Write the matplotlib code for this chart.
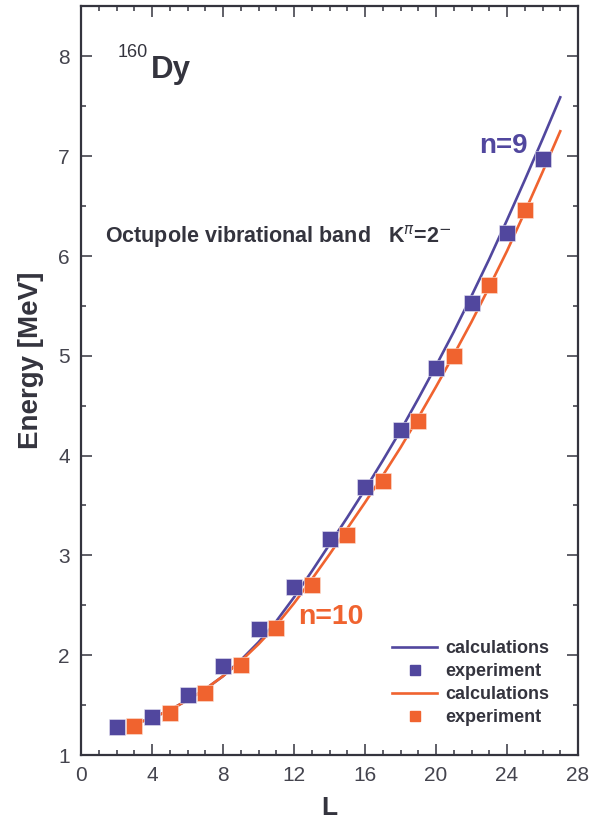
import matplotlib
matplotlib.use("Agg")
import matplotlib.pyplot as plt
from matplotlib.ticker import MultipleLocator
from matplotlib.lines import Line2D

plt.rcParams['font.family'] = ['Liberation Sans', 'DejaVu Sans']

# ---- data ----
L_exp_n9 = [2, 4, 6, 8, 10, 12, 14, 16, 18, 20, 22, 24, 26]
E_exp_n9 = [1.28, 1.38, 1.60, 1.89, 2.26, 2.68, 3.16, 3.69, 4.26, 4.88, 5.53, 6.23, 6.97]

L_exp_n10 = [3, 5, 7, 9, 11, 13, 15, 17, 19, 21, 23, 25]
E_exp_n10 = [1.29, 1.42, 1.62, 1.90, 2.27, 2.70, 3.20, 3.75, 4.35, 5.00, 5.71, 6.46]

L_calc = [3, 4, 5, 6, 7, 8, 9, 10, 11, 12, 13, 14, 15, 16, 17, 18, 19, 20,
          21, 22, 23, 24, 25, 26, 27]
E_calc_n9 = [1.31, 1.37, 1.45, 1.55, 1.66, 1.79, 1.95, 2.13, 2.34, 2.58, 2.84,
             3.11, 3.38, 3.66, 3.95, 4.25, 4.57, 4.90, 5.24, 5.60, 5.97, 6.36,
             6.76, 7.17, 7.59]
E_calc_n10 = [1.31, 1.37, 1.45, 1.55, 1.66, 1.79, 1.94, 2.11, 2.30, 2.52, 2.76,
              3.01, 3.27, 3.53, 3.80, 4.08, 4.38, 4.69, 5.01, 5.34, 5.69, 6.05,
              6.44, 6.84, 7.25]

x_ticks = [0, 4, 8, 12, 16, 20, 24, 28]
y_ticks = [1, 2, 3, 4, 5, 6, 7, 8]

BLUE = '#51479E'
ORANGE = '#F0632F'
DARK = '#34343e'

fig = plt.figure(figsize=(6.03, 8.21), dpi=100)
ax = fig.add_axes([81 / 603, 1 - 755 / 821, (578 - 81) / 603, (755 - 6.5) / 821])

ax.plot(L_calc, E_calc_n9, color=BLUE, lw=1.9, zorder=2)
ax.plot(L_calc, E_calc_n10, color=ORANGE, lw=1.9, zorder=2)
ax.plot(L_exp_n9, E_exp_n9, 's', color=BLUE, ms=11.3, mec='#e8e6f2', mew=0.4, zorder=3)
ax.plot(L_exp_n10, E_exp_n10, 's', color=ORANGE, ms=11.3, mec='#fbe3d8', mew=0.4, zorder=3)

ax.set_xlim(0, 28)
ax.set_ylim(1, 8.5)
ax.set_xticks(x_ticks)
ax.set_yticks(y_ticks)
ax.xaxis.set_minor_locator(MultipleLocator(1))
ax.yaxis.set_minor_locator(MultipleLocator(0.5))
ax.tick_params(which='both', direction='in', top=True, right=True, color=DARK,
               width=1.1, labelsize=15, labelcolor='#44444e')
ax.tick_params(which='major', length=8, pad=8)
ax.tick_params(which='minor', length=3.8)
for s in ax.spines.values():
    s.set_linewidth(1.6)
    s.set_color(DARK)

ax.set_xlabel('L', fontsize=19, fontweight='bold', color=DARK, labelpad=8)
ax.set_ylabel('Energy [MeV]', fontsize=20, fontweight='bold', color=DARK)
ax.yaxis.set_label_coords(-0.075, (755 - 360) / (755 - 6.5))

# annotations
fig.text(118 / 603, 1 - 57 / 821, '160', fontsize=13, color=DARK, ha='left', va='baseline')
fig.text(151 / 603, 1 - 78 / 821, 'Dy', fontsize=22.5, fontweight='bold', color=DARK,
         ha='left', va='baseline')
fig.text(105 / 603, 1 - 242 / 821, r'Octupole vibrational band   K$^{\pi}$=2$^{-}$',
         fontsize=15.5, fontweight='bold', color=DARK, ha='left', va='baseline')
fig.text(479 / 603, 1 - 153 / 821, 'n=9', fontsize=20, fontweight='bold', color=BLUE,
         ha='left', va='baseline')
fig.text(298 / 603, 1 - 624 / 821, 'n=10', fontsize=20.5, fontweight='bold', color=ORANGE,
         ha='left', va='baseline')

handles = [Line2D([], [], color=BLUE, lw=1.9),
           Line2D([], [], color=BLUE, marker='s', ls='none', ms=7),
           Line2D([], [], color=ORANGE, lw=1.9),
           Line2D([], [], color=ORANGE, marker='s', ls='none', ms=7)]
labels = ['calculations', 'experiment', 'calculations', 'experiment']
leg = fig.legend(handles, labels, loc='upper left', bbox_to_anchor=(392 / 603, 1 - 640 / 821),
                 frameon=False, borderpad=0, borderaxespad=0, handlelength=2.5,
                 handletextpad=0.45, labelspacing=0.33,
                 prop={'family': ['Liberation Sans'], 'weight': 'bold', 'size': 13})
for t in leg.get_texts():
    t.set_color(DARK)

fig.savefig('out.png', dpi=100)
